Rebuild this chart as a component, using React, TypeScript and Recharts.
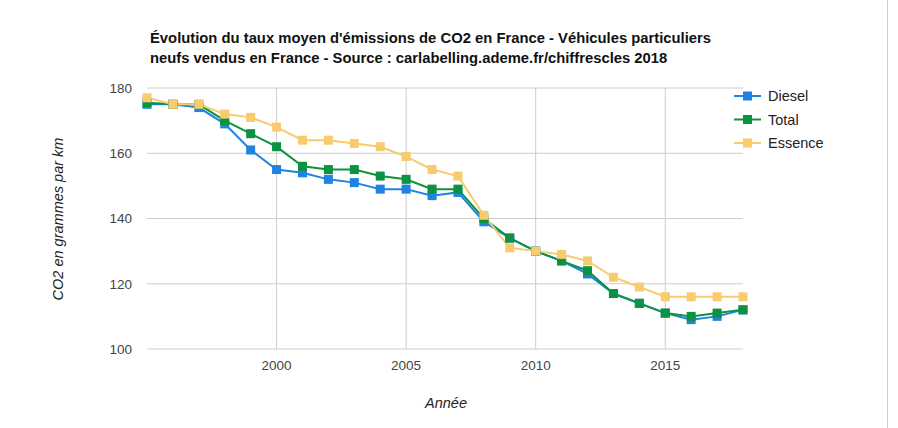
import { LineChart, Line, XAxis, YAxis, CartesianGrid, ReferenceLine } from 'recharts';

const years = [1995, 1996, 1997, 1998, 1999, 2000, 2001, 2002, 2003, 2004, 2005, 2006, 2007, 2008, 2009, 2010, 2011, 2012, 2013, 2014, 2015, 2016, 2017, 2018];
const diesel = [175, 175, 174, 169, 161, 155, 154, 152, 151, 149, 149, 147, 148, 139, 134, 130, 127, 123, 117, 114, 111, 109, 110, 112];
const total = [175.5, 175, 175, 170, 166, 162, 156, 155, 155, 153, 152, 149, 149, 140, 134, 130, 127, 124, 117, 114, 111, 110, 111, 112];
const essence = [177, 175, 175, 172, 171, 168, 164, 164, 163, 162, 159, 155, 153, 141, 131, 130, 129, 127, 122, 119, 116, 116, 116, 116];
const xTicks = [2000, 2005, 2010, 2015];
const yTicks = [100, 120, 140, 160, 180];

const series = [
  { key: 'diesel', name: 'Diesel', color: '#1f83e2' },
  { key: 'total', name: 'Total', color: '#0c9342' },
  { key: 'essence', name: 'Essence', color: '#f7cb6e' },
];

const data = years.map((y, i) => ({ year: y, diesel: diesel[i], total: total[i], essence: essence[i] }));

const font = '"Liberation Sans", Arial, sans-serif';

const squareDot = (color) => (props) => {
  const { cx, cy, index } = props;
  if (cx == null || cy == null) return null;
  return <rect key={index} x={cx - 4.5} y={cy - 4.5} width={9} height={9} fill={color} />;
};

export default function App() {
  return (
    <div style={{ position: 'absolute', left: 0, top: 0, width: 898, height: 428, background: '#fff', fontFamily: font }}>
      <div style={{ position: 'absolute', left: 150, top: 28, fontSize: 14.8, fontWeight: 'bold', color: '#111', lineHeight: '20px', whiteSpace: 'nowrap' }}>
        <div>Évolution du taux moyen d'émissions de CO2 en France - Véhicules particuliers</div>
        <div>neufs vendus en France - Source : carlabelling.ademe.fr/chiffrescles 2018</div>
      </div>
      <LineChart width={898} height={428} data={data} margin={{ top: 88, right: 155, left: 97, bottom: 49 }}>
        <CartesianGrid stroke="#cccccc" strokeWidth={1} vertical={false} />
        {/* vertical gridlines only at the labelled years */}
        {xTicks.map((t) => (
          <ReferenceLine key={t} x={t} stroke="#cccccc" strokeWidth={1} />
        ))}
        <XAxis
          dataKey="year"
          type="number"
          domain={[1995, 2018]}
          ticks={xTicks}
          axisLine={false}
          tickLine={false}
          tickMargin={5}
          height={30}
          tick={{ fill: '#444', fontSize: 13.5, fontFamily: font }}
        />
        <YAxis
          domain={[100, 180]}
          ticks={yTicks}
          axisLine={false}
          tickLine={false}
          tickMargin={9}
          width={50}
          tick={{ fill: '#444', fontSize: 13.5, fontFamily: font }}
        />
        {series.map((s) => (
          <Line
            key={s.key}
            type="linear"
            dataKey={s.key}
            name={s.name}
            stroke={s.color}
            strokeWidth={2}
            dot={squareDot(s.color)}
            activeDot={false}
            isAnimationActive={false}
          />
        ))}
        <text x={58} y={219} transform="rotate(-90 58 219)" textAnchor="middle" dominantBaseline="central"
          fontSize={14.5} fontStyle="italic" fill="#222" fontFamily={font}>
          CO2 en grammes par km
        </text>
        <text x={446} y={403} textAnchor="middle" dominantBaseline="central"
          fontSize={14.5} fontStyle="italic" fill="#222" fontFamily={font}>
          Année
        </text>
        {series.map((s, i) => (
          <g key={s.key}>
            <line x1={734} x2={761} y1={96 + i * 23.5} y2={96 + i * 23.5} stroke={s.color} strokeWidth={2} />
            <rect x={743} y={91.5 + i * 23.5} width={9} height={9} fill={s.color} />
            <text x={768} y={96 + i * 23.5} dominantBaseline="central" fontSize={14.5} fill="#222" fontFamily={font}>
              {s.name}
            </text>
          </g>
        ))}
      </LineChart>
      <div style={{ position: 'absolute', left: 887, top: 0, width: 1, height: 428, background: '#cfcfcf' }} />
    </div>
  );
}
